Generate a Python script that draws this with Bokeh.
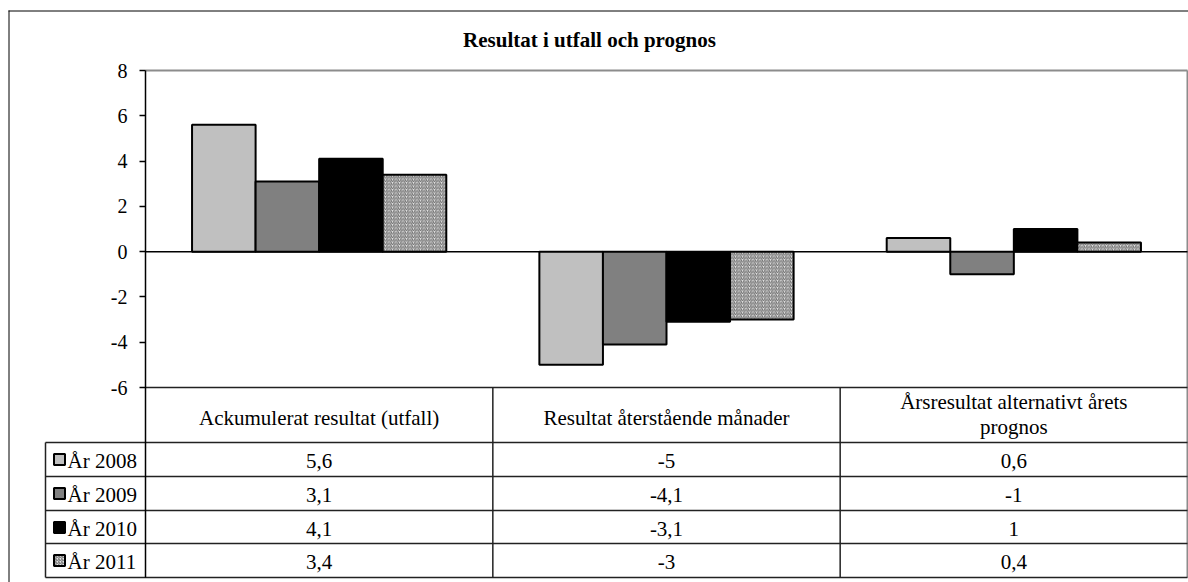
import numpy as np
from bokeh.plotting import figure
from bokeh.models import Range1d, LinearAxis, FixedTicker
from bokeh.core.properties import value
from bokeh.embed import file_html
from bokeh.resources import INLINE

# ---------------- data ----------------
title = "Resultat i utfall och prognos"
categories = ["Ackumulerat resultat (utfall)",
              "Resultat återstående månader",
              "Årsresultat alternativt årets\nprognos"]
series = ["År 2008", "År 2009", "År 2010", "År 2011"]
v2008 = [5.6, -5, 0.6]
v2009 = [3.1, -4.1, -1]
v2010 = [4.1, -3.1, 1]
v2011 = [3.4, -3, 0.4]
y_ticks = [-6, -4, -2, 0, 2, 4, 6, 8]

values = [v2008, v2009, v2010, v2011]

# ---------------- styles ----------------
fills = ["#c0c0c0", "#808080", "#000000", "#e4e4e4"]
hatches = [None, None, None, "/"]
FONT = "Liberation Serif"
TXT_SHIFT = 7  # renderer draws alphabetic baseline a little low

# ---------------- layout (page px -> data) ----------------
W, H = 1188, 582
OFF = 0
x0px, x3px = 145, 1187
ncat = len(categories)
U = (x3px - x0px) / ncat
ymin, ymax = y_ticks[0], y_ticks[-1]
ytop_px, ybot_px = 70, 387
V = (ybot_px - ytop_px) / (ymax - ymin)


def X(px):
    return (px - x0px) / U


def Y(py):
    return ymax - (py - ytop_px) / V


def YT(py):
    return Y(py - TXT_SHIFT)


p = figure(width=W, height=H,
           x_range=Range1d(X(OFF), X(OFF + W)),
           y_range=Range1d(Y(OFF + H), Y(OFF)),
           x_axis_type=None, y_axis_type=None,
           toolbar_location=None, output_backend="svg")
p.min_border_left = p.min_border_right = 0
p.min_border_top = p.min_border_bottom = 0
p.outline_line_color = None
p.background_fill_color = "white"
p.border_fill_color = "white"

# table geometry
row_lines_px = [442, 476, 510, 543, 577]
legend_left_px = 45
table_bottom = Y(row_lines_px[-1])

# ---------------- frame/grid lines ----------------
# outer chart border
p.segment(x0=[X(8.5), X(8)], y0=[Y(10), Y(10.5)],
          x1=[X(8.5), X(OFF + W)], y1=[Y(OFF + H), Y(10.5)],
          line_color="black", line_width=1)
# plot area top and right (gray)
p.segment(x0=[0, ncat], y0=[ymax, ymax], x1=[ncat, ncat], y1=[ymax, table_bottom],
          line_color="#8c8c8c", line_width=2)
# zero line
p.segment(x0=[0], y0=[0], x1=[ncat], y1=[0], line_color="black", line_width=1.5)

# ---------------- bars ----------------
group = 0.732
bw = group / len(series)
for j, (name, vals) in enumerate(zip(series, values)):
    xs = [i + 0.5 - group / 2 + bw * (j + 0.5) for i in range(ncat)]
    kw = dict(fill_color=fills[j], line_color="black", line_width=2)
    if hatches[j]:
        kw.update(hatch_pattern=hatches[j], hatch_color="#6a6a6a",
                  hatch_scale=3.5, hatch_weight=1)
    p.vbar(x=xs, top=vals, bottom=0, width=bw, **kw)

# ---------------- data table ----------------
hx0, hy0, hx1, hy1 = [], [], [], []
hx0.append(0); hy0.append(ymin); hx1.append(ncat); hy1.append(ymin)
for r in row_lines_px:
    hx0.append(X(legend_left_px)); hy0.append(Y(r)); hx1.append(ncat); hy1.append(Y(r))
for c in range(1, ncat):
    hx0.append(c); hy0.append(ymin); hx1.append(c); hy1.append(table_bottom)
hx0.append(X(legend_left_px)); hy0.append(Y(row_lines_px[0]))
hx1.append(X(legend_left_px)); hy1.append(table_bottom)
p.segment(x0=hx0, y0=hy0, x1=hx1, y1=hy1, line_color="#222222", line_width=1.5)

# header texts
hx, hy, ht = [], [], []
for i, cat in enumerate(categories):
    lines = cat.split("\n")
    base = [424] if len(lines) == 1 else [408, 433]
    for ln, b in zip(lines, base):
        hx.append(i + 0.5); hy.append(YT(b)); ht.append(ln)
p.text(x=hx, y=hy, text=ht, text_font=value(FONT), text_font_size="21px",
       text_align="center", text_baseline="alphabetic", text_color="black")


def fmt(v):
    return f"{v:g}".replace(".", ",")


cx, cy, ct = [], [], []
lx, ly, lt = [], [], []
for j, (name, vals) in enumerate(zip(series, values)):
    top = row_lines_px[j]
    base = top + 25
    for i, v in enumerate(vals):
        cx.append(i + 0.5); cy.append(YT(base)); ct.append(fmt(v))
    lx.append(X(67)); ly.append(YT(base)); lt.append(name)
    kw = dict(fill_color=fills[j], line_color="black", line_width=2)
    if hatches[j]:
        kw.update(hatch_pattern=hatches[j], hatch_color="#6a6a6a",
                  hatch_scale=3, hatch_weight=1)
    p.rect(x=[X(59)], y=[Y(base - 8)], width=11, height=11,
           width_units="screen", height_units="screen", **kw)

p.text(x=cx, y=cy, text=ct, text_font=value(FONT), text_font_size="21px",
       text_align="center", text_baseline="alphabetic", text_color="black")
p.text(x=lx, y=ly, text=lt, text_font=value(FONT), text_font_size="21px",
       text_align="left", text_baseline="alphabetic", text_color="black")

# title
p.text(x=[X(589)], y=[YT(46)], text=[title], text_font=value(FONT),
       text_font_size="21px", text_font_style="bold",
       text_align="center", text_baseline="alphabetic", text_color="black")

# ---------------- y axis ----------------
yaxis = LinearAxis(ticker=FixedTicker(ticks=y_ticks), fixed_location=0,
                   bounds=(table_bottom, ymax))
yaxis.major_label_overrides = {t: str(t) for t in y_ticks}
yaxis.major_label_text_font = FONT
yaxis.major_label_text_font_size = "20px"
yaxis.major_label_text_color = "black"
yaxis.major_label_standoff = 12
yaxis.major_tick_out = 6
yaxis.major_tick_in = 0
yaxis.minor_tick_out = 0
yaxis.minor_tick_in = 0
yaxis.axis_line_color = "black"
yaxis.axis_line_width = 1.5
yaxis.major_tick_line_color = "black"
yaxis.major_tick_line_width = 1.5
p.add_layout(yaxis, "left")

open("out.html", "w").write(file_html(p, INLINE))
